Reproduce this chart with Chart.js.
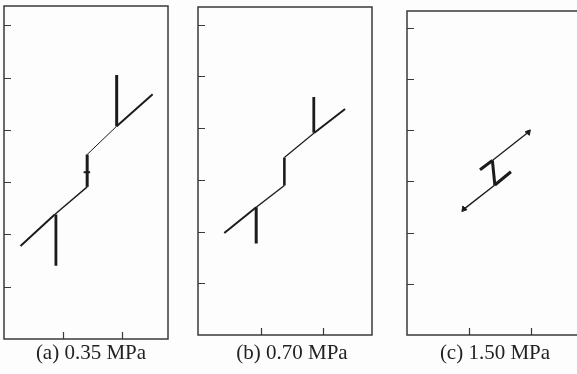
<!DOCTYPE html>
<html>
<head>
<meta charset="utf-8">
<script src="https://cdn.jsdelivr.net/npm/chart.js@4.4.1/dist/chart.umd.min.js"></script>
<style>
html, body { margin: 0; padding: 0; background: #fdfdfd; overflow: hidden; }
#wrap { position: relative; width: 577px; height: 374px; }
canvas { position: absolute; }
.cap { position: absolute; top: 340px; width: 160px; text-align: center; white-space: nowrap;
  font-family: "Liberation Serif", "Times New Roman", serif; font-size: 21px; color: #222; }
</style>
</head>
<body>
<div id="wrap">
  <canvas id="chartA" width="170" height="339" style="left:1px;top:3px"></canvas>
  <canvas id="chartB" width="180" height="334" style="left:195px;top:4px"></canvas>
  <canvas id="chartC" width="182" height="334" style="left:402px;top:6px"></canvas>
  <div class="cap" id="capA" style="left:11px"></div>
  <div class="cap" id="capB" style="left:212px"></div>
  <div class="cap" id="capC" style="left:415px"></div>
</div>
<script>
// axis ticks and captions
const xTicks = [1, 2]
const yTicks = [1, 2, 3, 4, 5, 6]
const captions = ['(a) 0.35 MPa', '(b) 0.70 MPa', '(c) 1.50 MPa']

// (a) 0.35 MPa
const aLineX = [0.28, 0.86, 1.41, 1.41, 1.91, 2.52]
const aLineY = [1.78, 2.38, 2.91, 3.53, 4.07, 4.68]
const aStemX = [0.88, 1.91]
const aStemFrom = [2.38, 4.07]
const aStemTo = [1.40, 5.05]
const aNotchX = [1.35, 1.46]
const aNotchY = [3.19, 3.19]

// (b) 0.70 MPa
const bLineX = [0.42, 0.93, 1.38, 1.38, 1.86, 2.35]
const bLineY = [1.97, 2.47, 2.89, 3.43, 3.91, 4.37]
const bStemX = [0.93, 1.85]
const bStemFrom = [2.47, 3.91]
const bStemTo = [1.77, 4.60]

// (c) 1.50 MPa
const cLineX = [0.92, 1.42, 1.38, 1.96]
const cLineY = [2.46, 2.93, 3.41, 3.96]
const cBarTopX = [1.18, 1.38]
const cBarTopY = [3.23, 3.41]
const cBarLowX = [1.42, 1.68]
const cBarLowY = [2.93, 3.19]

const INK = '#1b1b1b'
const FRAME = '#3a3a3a'

function pts(xs, ys) {
  return xs.map((x, i) => ({x: x, y: ys[i]}))
}

function lineSet(data, widths) {
  return {
    data: data,
    showLine: true,
    borderColor: INK,
    backgroundColor: INK,
    pointRadius: 0,
    borderCapStyle: 'butt',
    borderJoinStyle: 'miter',
    borderWidth: widths[0],
    segment: { borderWidth: ctx => widths[ctx.p0DataIndex] }
  }
}

const framePlugin = {
  id: 'frame',
  afterDraw(chart) {
    const ctx = chart.ctx
    const a = chart.chartArea
    const xs = chart.scales.x, ys = chart.scales.y
    ctx.save()
    ctx.strokeStyle = FRAME
    ctx.lineWidth = 1.5
    ctx.strokeRect(a.left, a.top, a.right - a.left, a.bottom - a.top)
    ctx.lineWidth = 1.2
    ctx.beginPath()
    yTicks.forEach(v => {
      const p = Math.round(ys.getPixelForValue(v)) + 0.5
      ctx.moveTo(a.left, p); ctx.lineTo(a.left + 7, p)
    })
    xTicks.forEach(v => {
      const p = Math.round(xs.getPixelForValue(v)) + 0.5
      ctx.moveTo(p, a.bottom); ctx.lineTo(p, a.bottom - 7)
    })
    ctx.stroke()
    ctx.restore()
  }
}

function makeChart(id, datasets, yMax) {
  new Chart(document.getElementById(id), {
    type: 'scatter',
    data: { datasets: datasets },
    options: {
      responsive: false,
      animation: false,
      layout: { padding: 3 },
      plugins: { legend: { display: false }, tooltip: { enabled: false } },
      scales: {
        x: { type: 'linear', display: false, min: 0, max: 2.78 },
        y: { type: 'linear', display: false, min: 0, max: yMax }
      }
    },
    plugins: [framePlugin]
  })
}

// panel (a)
makeChart('chartA', [
  lineSet(pts(aLineX, aLineY), [2, 1.4, 3, 1, 2]),
  lineSet(pts([aStemX[0], aStemX[0]], [aStemFrom[0], aStemTo[0]]), [2.8]),
  lineSet(pts([aStemX[1], aStemX[1]], [aStemFrom[1], aStemTo[1]]), [3]),
  lineSet(pts(aNotchX, aNotchY), [2])
], 6.37)

// panel (b)
makeChart('chartB', [
  lineSet(pts(bLineX, bLineY), [2, 1.4, 2.6, 1.2, 2]),
  lineSet(pts([bStemX[0], bStemX[0]], [bStemFrom[0], bStemTo[0]]), [3]),
  lineSet(pts([bStemX[1], bStemX[1]], [bStemFrom[1], bStemTo[1]]), [2.8])
], 6.34)

// panel (c)
const cLine = lineSet(pts(cLineX, cLineY), [1.4, 3, 1.3])
const cHeads = {
  data: [pts(cLineX, cLineY)[0], pts(cLineX, cLineY)[cLineX.length - 1]],
  showLine: false,
  pointStyle: 'triangle',
  pointRadius: 3.2,
  pointRotation: [220, 40],
  borderColor: INK,
  backgroundColor: INK,
  borderWidth: 1
}
makeChart('chartC', [
  cLine,
  lineSet(pts(cBarTopX, cBarTopY), [3]),
  lineSet(pts(cBarLowX, cBarLowY), [3]),
  cHeads
], 6.33)

document.getElementById('capA').textContent = captions[0]
document.getElementById('capB').textContent = captions[1]
document.getElementById('capC').textContent = captions[2]
</script>
</body>
</html>
